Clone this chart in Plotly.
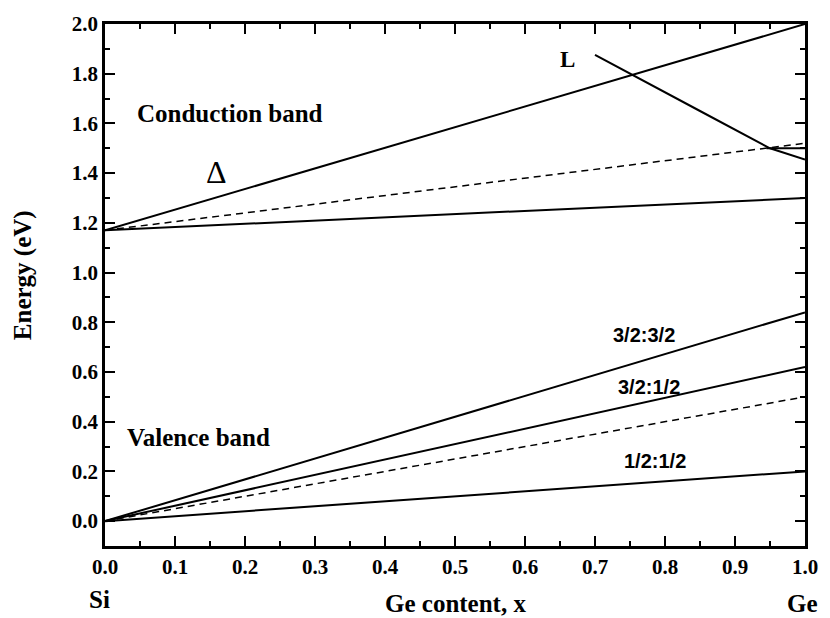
import plotly.graph_objects as go

# Ge content endpoints
x_lin = [0.0, 1.0]

# Conduction band (eV)
cb_delta_upper = [1.17, 2.00]
cb_dashed = [1.17, 1.52]
cb_delta_lower = [1.17, 1.30]
x_L = [0.70, 0.75, 0.85, 0.95, 1.00]
cb_L = [1.876, 1.80, 1.65, 1.50, 1.455]
x_short = [0.945, 1.0]
cb_short = [1.50, 1.50]

# Valence band (eV)
vb_32_32 = [0.0, 0.84]
vb_32_12 = [0.0, 0.62]
vb_dashed = [0.0, 0.50]
vb_12_12 = [0.0, 0.20]

xticks = [0.0, 0.1, 0.2, 0.3, 0.4, 0.5, 0.6, 0.7, 0.8, 0.9, 1.0]
yticks = [0.0, 0.2, 0.4, 0.6, 0.8, 1.0, 1.2, 1.4, 1.6, 1.8, 2.0]

SERIF = "Liberation Serif"
SANS = "Liberation Sans"

fig = go.Figure()
solid = dict(color="black", width=2)
dashed = dict(color="black", width=1.5, dash="7px,5px")

fig.add_trace(go.Scatter(x=x_lin, y=cb_delta_upper, mode="lines", line=solid))
fig.add_trace(go.Scatter(x=x_lin, y=cb_dashed, mode="lines", line=dashed))
fig.add_trace(go.Scatter(x=x_lin, y=cb_delta_lower, mode="lines", line=solid))
fig.add_trace(go.Scatter(x=x_L, y=cb_L, mode="lines", line=solid))
fig.add_trace(go.Scatter(x=x_short, y=cb_short, mode="lines", line=solid))
fig.add_trace(go.Scatter(x=x_lin, y=vb_32_32, mode="lines", line=solid))
fig.add_trace(go.Scatter(x=x_lin, y=vb_32_12, mode="lines", line=solid))
fig.add_trace(go.Scatter(x=x_lin, y=vb_dashed, mode="lines", line=dashed))
fig.add_trace(go.Scatter(x=x_lin, y=vb_12_12, mode="lines", line=solid))

tickfont = dict(family=SERIF, size=21, color="black", weight="bold")
axis_common = dict(
    showline=True, linecolor="black", linewidth=2.5, mirror="allticks",
    ticks="inside", ticklen=10, tickwidth=2, tickcolor="black",
    showgrid=False, zeroline=False, tickfont=tickfont, tickformat=".1f",
)
fig.update_xaxes(range=[0, 1.0], tickvals=xticks,
                 minor=dict(ticks="inside", ticklen=5, tickwidth=2, dtick=0.05, tick0=0, tickcolor="black"),
                 **axis_common)
fig.update_yaxes(range=[-0.1, 2.0], tickvals=yticks,
                 minor=dict(ticks="inside", ticklen=5, tickwidth=2, dtick=0.1, tick0=0, tickcolor="black"),
                 **axis_common)

def serif(size, bold=True):
    return dict(family=SERIF, size=size, color="black", weight="bold" if bold else "normal")

sans = dict(family=SANS, size=20, color="black", weight="bold")

ann = [
    dict(x=0.179, y=1.64, text="Conduction band", font=serif(25)),
    dict(x=0.134, y=0.336, text="Valence band", font=serif(25)),
    dict(x=0.159, y=1.404, text="Δ", font=serif(32, bold=False)),
    dict(x=0.661, y=1.856, text="L", font=serif(23)),
    dict(x=0.770, y=0.748, text="3/2:3/2", font=sans),
    dict(x=0.777, y=0.540, text="3/2:1/2", font=sans),
    dict(x=0.786, y=0.240, text="1/2:1/2", font=sans),
    dict(x=-0.117, xref="paper", y=0.99, text="Energy (eV)", textangle=-90, font=serif(25)),
    dict(x=0.5, xref="paper", y=-0.110, yref="paper", text="Ge content, x", font=serif(25)),
    dict(x=-0.0085, xref="paper", y=-0.103, yref="paper", text="Si", font=serif(25)),
    dict(x=0.997, xref="paper", y=-0.110, yref="paper", text="Ge", font=serif(25)),
]
for a in ann:
    a.setdefault("xref", "x")
    a.setdefault("yref", "y")
    a.update(showarrow=False, xanchor="center", yanchor="middle")
fig.update_layout(annotations=ann)

fig.update_layout(
    width=830, height=618,
    margin=dict(l=105, r=16, t=21, b=72),
    paper_bgcolor="white", plot_bgcolor="white",
    showlegend=False,
)
fig.write_html("out.html")
